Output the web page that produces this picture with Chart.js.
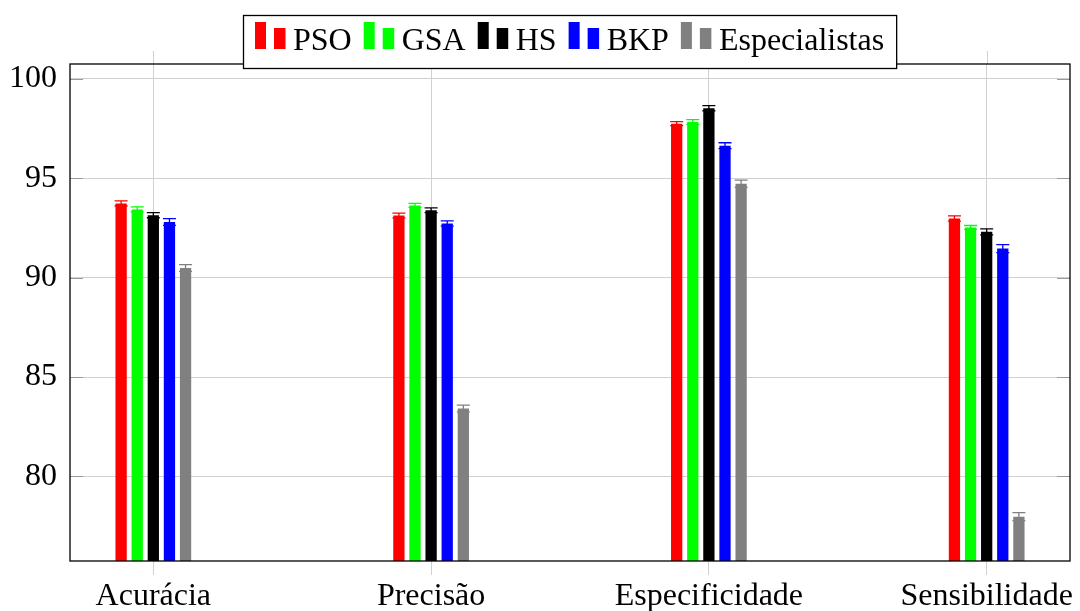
<!DOCTYPE html>
<html><head><meta charset="utf-8">
<script src="https://cdn.jsdelivr.net/npm/chart.js@4"></script>
<style>html,body{margin:0;padding:0;background:#fff}</style>
</head><body>
<canvas id="c" width="1080" height="611" style="display:block;width:1080px;height:611px"></canvas>
<script>
const categories = ['Acurácia', 'Precisão', 'Especificidade', 'Sensibilidade'];
const seriesNames = ['PSO', 'GSA', 'HS', 'BKP', 'Especialistas'];
const seriesColors = ['#ff0000', '#00ff00', '#000000', '#0000ff', '#808080'];
const PSO = [93.73, 93.12, 97.74, 92.97];
const GSA = [93.43, 93.63, 97.82, 92.52];
const HS = [93.14, 93.39, 98.52, 92.30];
const BKP = [92.80, 92.72, 96.63, 91.46];
const Especialistas = [90.48, 83.42, 94.72, 77.98];
const errPSO = [0.13, 0.12, 0.10, 0.13];
const errGSA = [0.13, 0.10, 0.12, 0.10];
const errHS = [0.13, 0.12, 0.13, 0.15];
const errBKP = [0.17, 0.13, 0.15, 0.20];
const errEspecialistas = [0.17, 0.17, 0.18, 0.20];
const yTicks = [80, 85, 90, 95, 100];
const yMin = 75.75, yMax = 100.74;
const xMin = -0.3, xMax = 3.3;

const seriesValues = [PSO, GSA, HS, BKP, Especialistas];
const seriesErrors = [errPSO, errGSA, errHS, errBKP, errEspecialistas];

const FONT = '"Liberation Serif", "DejaVu Serif", serif';
const GRID = '#d0d0d0';

const datasets = seriesNames.map((name, k) => ({
  label: name,
  data: categories.map((c, j) => ({ x: j, y: seriesValues[k][j] })),
  errors: seriesErrors[k],
  backgroundColor: seriesColors[k],
  borderWidth: 0,
  categoryPercentage: 0.29,
  barPercentage: 0.70
}));

const decoPlugin = {
  id: 'deco',
  beforeDatasetsDraw(chart) {
    const { ctx, chartArea: a, scales: { x } } = chart;
    ctx.save();
    ctx.strokeStyle = GRID; ctx.lineWidth = 1;
    x.ticks.forEach((t, i) => {
      const px = Math.round(x.getPixelForTick(i)) + 0.5;
      ctx.beginPath(); ctx.moveTo(px, a.top - 13); ctx.lineTo(px, a.top); ctx.stroke();
    });
    ctx.restore();
  },
  afterDatasetsDraw(chart) {
    const { ctx, chartArea: a, scales: { y } } = chart;
    ctx.save();
    // error bars
    chart.data.datasets.forEach((ds, k) => {
      const meta = chart.getDatasetMeta(k);
      ctx.strokeStyle = ds.backgroundColor; ctx.lineWidth = 1.3;
      meta.data.forEach((bar, j) => {
        const v = ds.data[j].y, e = ds.errors[j];
        const yt = y.getPixelForValue(v + e), yb = y.getPixelForValue(v - e);
        const hw = 6.5;
        ctx.beginPath();
        ctx.moveTo(bar.x, yt); ctx.lineTo(bar.x, yb);
        ctx.moveTo(bar.x - hw, yt); ctx.lineTo(bar.x + hw, yt);
        ctx.moveTo(bar.x - hw, yb); ctx.lineTo(bar.x + hw, yb);
        ctx.stroke();
      });
    });
    // inner y ticks
    ctx.strokeStyle = '#9a9a9a'; ctx.lineWidth = 1;
    y.ticks.forEach((t, i) => {
      const py = Math.round(y.getPixelForTick(i)) + 0.5;
      ctx.beginPath();
      ctx.moveTo(a.left, py); ctx.lineTo(a.left + 13, py);
      ctx.moveTo(a.right - 13, py); ctx.lineTo(a.right, py);
      ctx.stroke();
    });
    // frame
    ctx.strokeStyle = '#000'; ctx.lineWidth = 1.3;
    ctx.strokeRect(a.left, a.top, a.right - a.left, a.bottom - a.top);
    ctx.restore();
  },
  afterDraw(chart) {
    const ctx = chart.ctx;
    ctx.save();
    ctx.font = '32px ' + FONT;
    const items = chart.data.datasets.map(d => ({ label: d.label, color: d.backgroundColor, w: ctx.measureText(d.label).width }));
    const iconW = 31, gapIT = 7, gapItem = 12, pad = 12;
    const total = pad * 2 + items.reduce((s, it) => s + iconW + gapIT + it.w, 0) + gapItem * (items.length - 1);
    const cx = (chart.chartArea.left + chart.chartArea.right) / 2;
    const x0 = Math.round(cx - total / 2), top = 15, h = 53;
    ctx.fillStyle = '#fff'; ctx.fillRect(x0, top, total, h);
    ctx.strokeStyle = '#000'; ctx.lineWidth = 1.3; ctx.strokeRect(x0 + 0.5, top + 0.5, total, h);
    let x = x0 + pad;
    items.forEach(it => {
      ctx.fillStyle = it.color;
      ctx.fillRect(x, 22, 11, 27);
      ctx.fillRect(x + 19, 28, 11.5, 21);
      x += iconW + gapIT;
      ctx.fillStyle = '#000'; ctx.textBaseline = 'alphabetic'; ctx.textAlign = 'left';
      ctx.fillText(it.label, x, 50);
      x += it.w + gapItem;
    });
    ctx.restore();
  }
};

new Chart(document.getElementById('c'), {
  type: 'bar',
  data: { datasets },
  options: {
    responsive: false,
    animation: false,
    devicePixelRatio: 1,
    layout: { padding: { top: 64, right: 10, left: 0, bottom: 0 } },
    plugins: { legend: { display: false }, tooltip: { enabled: false } },
    scales: {
      x: {
        type: 'linear', min: xMin, max: xMax, offset: false,
        afterBuildTicks: s => { s.ticks = categories.map((c, i) => ({ value: i })); },
        afterFit: s => { s.height = 50; },
        ticks: { autoSkip: false, maxRotation: 0, padding: 2, color: '#000', font: { family: FONT, size: 32 },
                 callback: v => categories[v] },
        grid: { offset: false, color: GRID, lineWidth: 1, drawTicks: true, tickLength: 14, tickColor: GRID },
        border: { display: false }
      },
      y: {
        min: yMin, max: yMax,
        afterBuildTicks: s => { s.ticks = yTicks.map(v => ({ value: v })); },
        afterFit: s => { s.width = 70; },
        ticks: { padding: 13, color: '#000', font: { family: FONT, size: 32 }, callback: v => String(v) },
        grid: { color: GRID, lineWidth: 1, drawTicks: false },
        border: { display: false }
      }
    }
  },
  plugins: [decoPlugin]
});
</script>
</body></html>
